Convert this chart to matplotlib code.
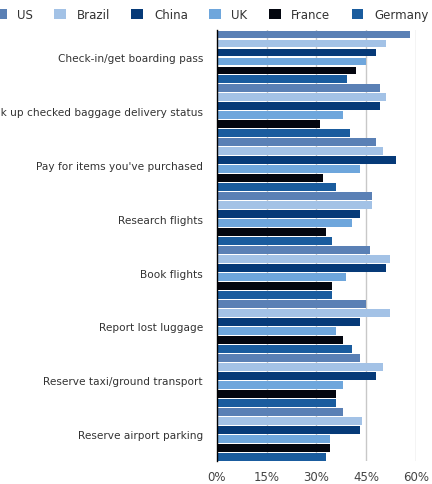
import numpy as np
import matplotlib
matplotlib.use("Agg")
import matplotlib.pyplot as plt

tasks = ["Check-in/get boarding pass",
         "Look up checked baggage delivery status",
         "Pay for items you've purchased",
         "Research flights",
         "Book flights",
         "Report lost luggage",
         "Reserve taxi/ground transport",
         "Reserve airport parking"]

countries = ["US", "Brazil", "China", "UK", "France", "Germany"]
colors = ["#5a80b5", "#a3c2e6", "#063a78", "#6ea6dc", "#03060f", "#1a5c9e"]

us = [58.1, 49.2, 47.9, 46.7, 46.1, 44.8, 43.1, 37.9]
brazil = [51.1, 51.1, 50.0, 46.7, 52.1, 52.1, 50.0, 43.8]
china = [47.9, 49.2, 54.1, 43.2, 51.1, 43.1, 47.9, 43.1]
uk = [44.8, 37.9, 43.2, 40.8, 38.9, 35.9, 37.9, 34.1]
france = [42.0, 31.2, 32.0, 33.0, 34.8, 37.9, 35.9, 34.1]
germany = [39.1, 40.2, 35.9, 34.8, 34.8, 40.8, 35.9, 33.0]
series = [us, brazil, china, uk, france, germany]

ticks = [0, 15, 30, 45, 60]
tick_labels = ["0%", "15%", "30%", "45%", "60%"]

fig = plt.figure(figsize=(4.32, 4.85), dpi=100)
ax = fig.add_axes([0.502, 0.047, 0.461, 0.889])

n = len(countries)
base = np.arange(len(tasks)) * n
for j, (name, vals, col) in enumerate(zip(countries, series, colors)):
    ax.barh(base + j, vals, height=0.88, color=col, label=name, zorder=2)

ax.set_ylim(len(tasks) * n - 0.5, -0.5)
ax.set_xlim(0, 60)
ax.set_yticks(base + (n - 1) / 2)
ax.set_yticklabels(tasks, fontsize=7.6, color="#333333")
ax.set_xticks(ticks)
ax.set_xticklabels(tick_labels, fontsize=8.5, color="#444444")
ax.tick_params(axis="y", length=0, pad=10)
ax.tick_params(axis="x", length=0, pad=6)
ax.grid(axis="x", color="#c8c8c8", linewidth=1, zorder=0)
for s in ["top", "right", "bottom"]:
    ax.spines[s].set_visible(False)
ax.spines["left"].set_color("black")
ax.spines["left"].set_linewidth(1)
ax.spines["left"].set_zorder(3)

fig.legend(loc="center", bbox_to_anchor=(0.49, 0.968), ncol=6, frameon=False,
           fontsize=8.5, handlelength=1.0, handleheight=1.0, columnspacing=1.8,
           handletextpad=0.9, labelcolor="#333333")

fig.savefig("out.png", dpi=100)
